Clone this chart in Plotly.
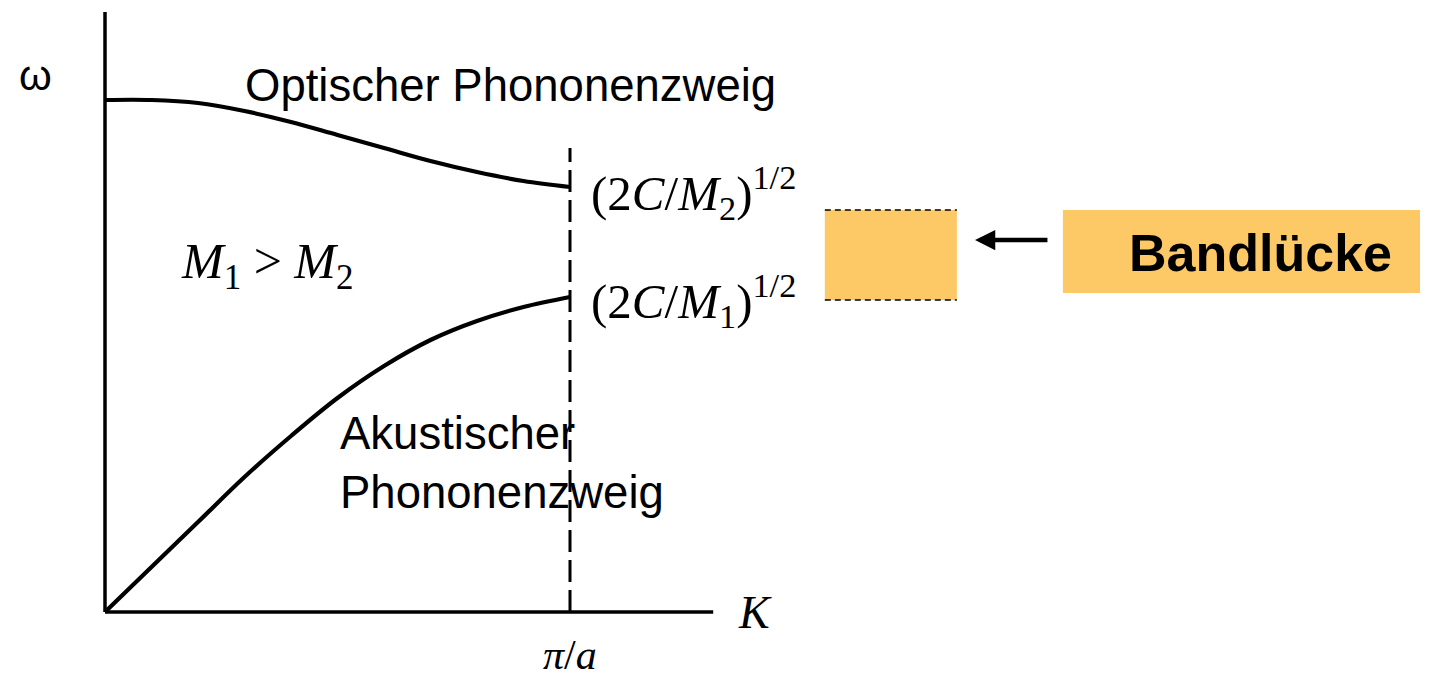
import plotly.graph_objects as go

# Wave vector K in units of pi/a (Brillouin zone edge at K = 1)
k_values = [0.0, 0.1, 0.2, 0.3, 0.4, 0.5, 0.6, 0.7, 0.8, 0.9, 1.0]
# Optical branch frequency (arbitrary units)
omega_optical = [5.12, 5.12, 5.09, 5.01, 4.90, 4.77, 4.64, 4.51, 4.40, 4.31, 4.25]
# Acoustic branch frequency (arbitrary units)
omega_acoustic = [0.00, 0.45, 0.90, 1.35, 1.76, 2.14, 2.46, 2.72, 2.91, 3.05, 3.15]

# Axis extents and zone boundary
axis_k = [0.0, 1.308]
axis_omega = [0.0, 6.0]
zone_edge_k = 1.0
zone_edge_top = 4.64

# Band gap marker (omega limits) and callout box
gap_omega = [3.12, 4.02]

ink = "#000000"
orange = "#FDC966"
sans = "Liberation Sans, Arial, Helvetica, sans-serif"
serif = "Liberation Serif, Times New Roman, serif"

fig = go.Figure()

# coordinate axes
fig.add_trace(go.Scatter(x=[axis_k[0], axis_k[0]], y=axis_omega, mode="lines",
                         line=dict(color=ink, width=3.5), hoverinfo="skip", showlegend=False))
fig.add_trace(go.Scatter(x=axis_k, y=[0, 0], mode="lines",
                         line=dict(color=ink, width=3.5), hoverinfo="skip", showlegend=False))

# zone boundary pi/a
fig.add_trace(go.Scatter(x=[zone_edge_k, zone_edge_k], y=[0, zone_edge_top], mode="lines",
                         line=dict(color=ink, width=3, dash="22px,8px"),
                         hoverinfo="skip", showlegend=False))

# dispersion branches
fig.add_trace(go.Scatter(x=k_values, y=omega_optical, mode="lines",
                         line=dict(color=ink, width=4.2, shape="spline", smoothing=1.0),
                         showlegend=False))
fig.add_trace(go.Scatter(x=k_values, y=omega_acoustic, mode="lines",
                         line=dict(color=ink, width=4.2, shape="spline", smoothing=1.0),
                         showlegend=False))

shapes = [
    # band gap rectangle with dashed edges
    dict(type="rect", xref="x", yref="y", x0=1.548, x1=1.832, y0=gap_omega[0], y1=gap_omega[1],
         fillcolor=orange, line=dict(width=0), layer="below"),
    dict(type="line", xref="x", yref="y", x0=1.548, x1=1.832, y0=gap_omega[1], y1=gap_omega[1],
         line=dict(color=ink, width=1.5, dash="6px,4px")),
    dict(type="line", xref="x", yref="y", x0=1.548, x1=1.832, y0=gap_omega[0], y1=gap_omega[0],
         line=dict(color=ink, width=1.5, dash="6px,4px")),
    # label box
    dict(type="rect", xref="x", yref="y", x0=2.060, x1=2.828, y0=3.19, y1=4.02,
         fillcolor=orange, line=dict(width=0), layer="below"),
]

annotations = [
    dict(x=-0.1505, y=5.37, text="ω", font=dict(family=sans, size=42, color=ink)),
    dict(x=0.873, y=5.27, text="Optischer Phononenzweig", font=dict(family=sans, size=45.5, color=ink)),
    dict(x=1.040, y=4.20, xanchor="left",
         text="(2<i>C</i>/<i>M</i><sub>2</sub>)<sup>1/2</sup>",
         font=dict(family=serif, size=49, color=ink)),
    dict(x=1.040, y=3.12, xanchor="left",
         text="(2<i>C</i>/<i>M</i><sub>1</sub>)<sup>1/2</sup>",
         font=dict(family=serif, size=49, color=ink)),
    dict(x=0.3505, y=3.47, text="<i>M</i><sub>1</sub> > <i>M</i><sub>2</sub>",
         font=dict(family=serif, size=50, color=ink)),
    dict(x=0.502, y=1.49, xanchor="left", align="left",
         text="Akustischer<br>Phononenzweig", font=dict(family=sans, size=45.5, color=ink)),
    dict(x=1.398, y=0.0, text="<i>K</i>", font=dict(family=serif, size=46, color=ink)),
    dict(x=1.0, y=-0.43, text="<i>π</i>/<i>a</i>", font=dict(family=serif, size=42, color=ink)),
    dict(x=2.484, y=3.59, text="<b>Bandlücke</b>", font=dict(family=sans, size=52, color=ink)),
    # arrow pointing at the gap
    dict(x=1.871, y=3.72, ax=2.030, ay=3.72, xref="x", yref="y", axref="x", ayref="y",
         text="", showarrow=True, arrowhead=2, arrowsize=0.9, arrowwidth=4.5, arrowcolor=ink),
]
for a in annotations:
    a.setdefault("showarrow", False)
    a.setdefault("xref", "x")
    a.setdefault("yref", "y")

fig.update_layout(
    width=1450, height=682,
    margin=dict(l=0, r=0, t=0, b=0),
    paper_bgcolor="white", plot_bgcolor="white",
    xaxis=dict(range=[-0.22581, 2.89247], visible=False, fixedrange=True),
    yaxis=dict(range=[-0.70, 6.12], visible=False, fixedrange=True),
    shapes=shapes, annotations=annotations,
)

fig.write_html("out.html")
